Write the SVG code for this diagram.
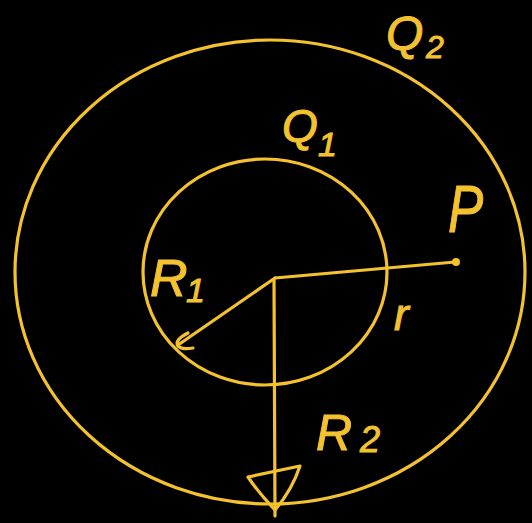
<svg xmlns="http://www.w3.org/2000/svg" width="532" height="523" viewBox="0 0 532 523">
<style>
.s{fill:none;stroke:#f4c22f;stroke-width:3.2;stroke-linecap:round;stroke-linejoin:round}
.t{fill:#f4c22f;stroke:#f4c22f;stroke-width:1;font-family:"Liberation Sans",Arial,sans-serif;font-style:italic}
</style>
<rect width="532" height="523" fill="#000"/>
<g id="outer-shell">
<ellipse class="s" cx="270" cy="272" rx="255" ry="232"/>
</g>
<g id="inner-shell">
<ellipse class="s" cx="265" cy="272" rx="122" ry="113"/>
</g>
<g id="connectors">
<path class="s" d="M275 278 L455 262"/>
<circle cx="456" cy="262" r="4" fill="#f4c22f"/>
<path class="s" d="M275 278 L178 345"/>
<path class="s" d="M188 333 Q174 340 178 346 Q182 350 193 348"/>
<path class="s" d="M274 280 L275 516"/>
<path class="s" d="M248 477 L300 466 Q292 490 275 510 Q258 492 248 477"/>
</g>
<g id="labels">
<text class="t" x="282" y="142" font-size="46">Q</text>
<text class="t" x="318" y="156" font-size="34">1</text>
<text class="t" x="448" y="232" font-size="66" transform="translate(448 232) scale(0.8 1) translate(-448 -232)">P</text>
<text class="t" x="150" y="296" font-size="52">R</text>
<text class="t" x="186" y="302" font-size="34">1</text>
<text class="t" x="394" y="330" font-size="44">r</text>
<text class="t" x="316" y="450" font-size="50">R</text>
<text class="t" x="360" y="452" font-size="36">2</text>
<text class="t" x="386" y="50" font-size="48">Q</text>
<text class="t" x="426" y="58" font-size="32">2</text>
</g>
</svg>
